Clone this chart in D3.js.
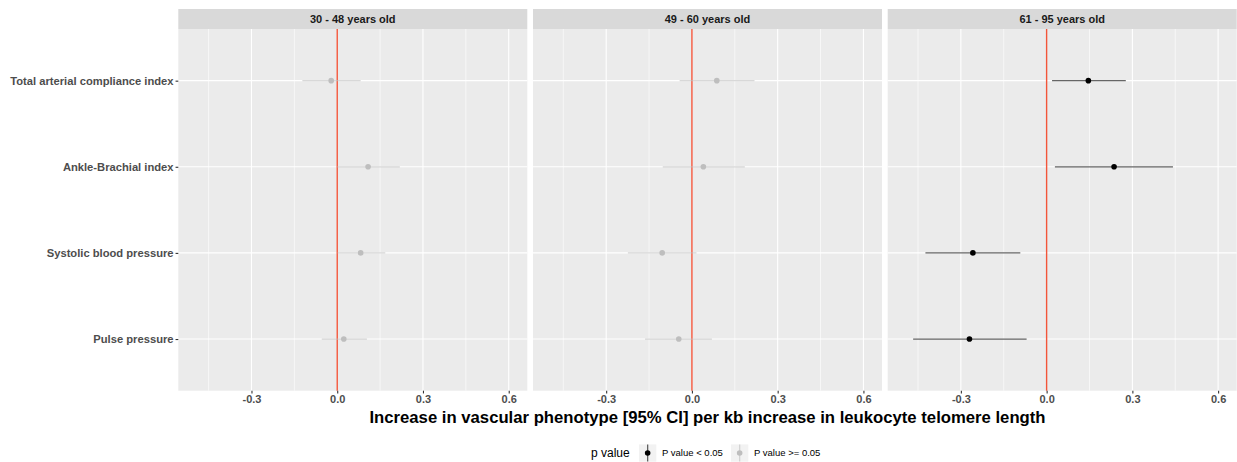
<!DOCTYPE html>
<html>
<head>
<meta charset="utf-8">
<script src="https://cdn.jsdelivr.net/npm/d3@7"></script>
<style>
  html, body { margin: 0; padding: 0; background: #ffffff; }
  svg { display: block; font-family: "Liberation Sans", Arial, sans-serif; }
</style>
</head>
<body>
<svg id="chart" width="1237" height="462"></svg>
<script>
// ---------- data ----------
const ageGroups = ["30 - 48 years old", "49 - 60 years old", "61 - 95 years old"];
const outcomes = ["Total arterial compliance index", "Ankle-Brachial index", "Systolic blood pressure", "Pulse pressure"];

const estimate_30_48 = [-0.021, 0.108, 0.082, 0.023];
const lower_30_48    = [-0.122, 0.000, 0.001, -0.054];
const upper_30_48    = [0.082, 0.219, 0.168, 0.104];
const pgroup_30_48   = ["P value >= 0.05", "P value >= 0.05", "P value >= 0.05", "P value >= 0.05"];

const estimate_49_60 = [0.087, 0.040, -0.104, -0.046];
const lower_49_60    = [-0.043, -0.102, -0.224, -0.164];
const upper_49_60    = [0.219, 0.185, 0.016, 0.070];
const pgroup_49_60   = ["P value >= 0.05", "P value >= 0.05", "P value >= 0.05", "P value >= 0.05"];

const estimate_61_95 = [0.146, 0.236, -0.258, -0.270];
const lower_61_95    = [0.019, 0.029, -0.424, -0.467];
const upper_61_95    = [0.277, 0.442, -0.092, -0.070];
const pgroup_61_95   = ["P value < 0.05", "P value < 0.05", "P value < 0.05", "P value < 0.05"];

const pLevels = ["P value < 0.05", "P value >= 0.05"];
const pColors = ["#000000", "#bebebe"];
const xLimits = [-0.556, 0.665];
const xMajorTicks = [-0.3, 0.0, 0.3, 0.6];
const xMinorTicks = [-0.45, -0.15, 0.15, 0.45];
const referenceValue = [0];
const xTitle = "Increase in vascular phenotype [95% CI] per kb increase in leukocyte telomere length";
const legendTitle = "p value";

// ---------- build rows ----------
const estimates = [estimate_30_48, estimate_49_60, estimate_61_95];
const lowers = [lower_30_48, lower_49_60, lower_61_95];
const uppers = [upper_30_48, upper_49_60, upper_61_95];
const pgroups = [pgroup_30_48, pgroup_49_60, pgroup_61_95];
const rows = [];
ageGroups.forEach((g, gi) => outcomes.forEach((o, oi) => rows.push({
  group: g, outcome: o, est: estimates[gi][oi], lo: lowers[gi][oi], hi: uppers[gi][oi], p: pgroups[gi][oi]
})));

// ---------- layout ----------
const svg = d3.select("#chart");
const panelLeft = 178.3, panelW = 349, panelGap = 5.7;
const stripTop = 9, stripH = 20;
const panelTop = stripTop + stripH, panelBottom = 390.7;

const x = d3.scaleLinear().domain(xLimits).range([0, panelW]);
const y = d3.scalePoint().domain(outcomes).range([panelTop, panelBottom]).padding(0.6);
const color = d3.scaleOrdinal().domain(pLevels).range(pColors);
const facet = d3.scaleBand().domain(ageGroups).range([panelLeft, panelLeft + 3 * panelW + 2 * panelGap]).paddingInner(panelGap / (panelW + panelGap));
const fmt = d => d3.format(".1f")(d).replace("\u2212", "-");

ageGroups.forEach((g) => {
  const gx = facet(g);
  const p = svg.append("g").attr("transform", `translate(${gx},0)`);
  // strip
  p.append("rect").attr("x", 0).attr("y", stripTop).attr("width", panelW).attr("height", stripH).attr("fill", "#d9d9d9");
  p.append("text").attr("x", panelW / 2).attr("y", stripTop + stripH / 2).attr("dy", "0.35em")
    .attr("text-anchor", "middle").attr("font-size", 11).attr("font-weight", "bold").attr("fill", "#1a1a1a").text(g);
  // panel bg
  p.append("rect").attr("x", 0).attr("y", panelTop).attr("width", panelW).attr("height", panelBottom - panelTop).attr("fill", "#ebebeb");
  // minor grid
  p.selectAll(".minor").data(xMinorTicks).join("line")
    .attr("x1", d => x(d)).attr("x2", d => x(d)).attr("y1", panelTop).attr("y2", panelBottom)
    .attr("stroke", "#ffffff").attr("stroke-width", 0.6);
  // major grid
  p.selectAll(".majorx").data(xMajorTicks).join("line")
    .attr("x1", d => x(d)).attr("x2", d => x(d)).attr("y1", panelTop).attr("y2", panelBottom)
    .attr("stroke", "#ffffff").attr("stroke-width", 1.1);
  p.selectAll(".majory").data(outcomes).join("line")
    .attr("x1", 0).attr("x2", panelW).attr("y1", d => y(d)).attr("y2", d => y(d))
    .attr("stroke", "#ffffff").attr("stroke-width", 1.1);
  // reference line
  p.selectAll(".ref").data(referenceValue).join("line")
    .attr("x1", d => x(d)).attr("x2", d => x(d)).attr("y1", panelTop).attr("y2", panelBottom)
    .attr("stroke", "#f2553a").attr("stroke-width", 1.4);
  // x axis
  const ax = p.append("g").attr("transform", `translate(0,${panelBottom})`)
    .call(d3.axisBottom(x).tickValues(xMajorTicks).tickFormat(fmt).tickSizeInner(2.75).tickSizeOuter(0).tickPadding(2));
  ax.select(".domain").remove();
  ax.selectAll(".tick line").attr("stroke", "#333333").attr("stroke-width", 1.1);
  ax.selectAll(".tick text").attr("font-size", 11).attr("font-weight", "bold").attr("fill", "#4d4d4d")
    .attr("font-family", "Liberation Sans, Arial, sans-serif");
  // data
  const d = rows.filter(r => r.group === g);
  p.selectAll(".ci").data(d).join("line")
    .attr("x1", r => x(r.lo)).attr("x2", r => x(r.hi)).attr("y1", r => y(r.outcome)).attr("y2", r => y(r.outcome))
    .attr("stroke", r => color(r.p)).attr("stroke-opacity", 0.6).attr("stroke-width", 1.3);
  p.selectAll(".pt").data(d).join("circle")
    .attr("cx", r => x(r.est)).attr("cy", r => y(r.outcome)).attr("r", 2.8)
    .attr("fill", r => color(r.p));
});

// y axis (left of first panel)
const ay = svg.append("g").attr("transform", `translate(${panelLeft},0)`)
  .call(d3.axisLeft(y).tickSizeInner(2.75).tickSizeOuter(0).tickPadding(2));
ay.select(".domain").remove();
ay.selectAll(".tick line").attr("stroke", "#333333").attr("stroke-width", 1.1);
ay.selectAll(".tick text").attr("font-size", 11.2).attr("font-weight", "bold").attr("fill", "#4d4d4d")
  .attr("font-family", "Liberation Sans, Arial, sans-serif");

// x title
const plotCenter = (panelLeft + facet(ageGroups[2]) + panelW) / 2;
svg.append("text").attr("x", plotCenter).attr("y", 417).attr("dy", "0.35em").attr("text-anchor", "middle")
  .attr("font-size", 16.7).attr("font-weight", "bold").attr("fill", "#000000").text(xTitle);

// legend
const lg = svg.append("g").attr("transform", "translate(0,453)");
lg.append("text").attr("x", 591).attr("y", 0).attr("dy", "0.35em").attr("font-size", 12).attr("fill", "#000").text(legendTitle);
const keyX = [639, 731];
pLevels.forEach((lv, i) => {
  const k = lg.append("g").attr("transform", `translate(${keyX[i]},0)`);
  k.append("rect").attr("x", 0).attr("y", -8.6).attr("width", 17.3).attr("height", 17.3).attr("fill", "#f2f2f2");
  k.append("line").attr("x1", 8.65).attr("x2", 8.65).attr("y1", -8.6).attr("y2", 8.6)
    .attr("stroke", color(lv)).attr("stroke-opacity", 0.6).attr("stroke-width", 1.3);
  k.append("circle").attr("cx", 8.65).attr("cy", 0).attr("r", 2.8).attr("fill", color(lv));
  k.append("text").attr("x", 23).attr("y", 0).attr("dy", "0.35em").attr("font-size", 9.5).attr("fill", "#000").text(lv);
});
</script>
</body>
</html>
